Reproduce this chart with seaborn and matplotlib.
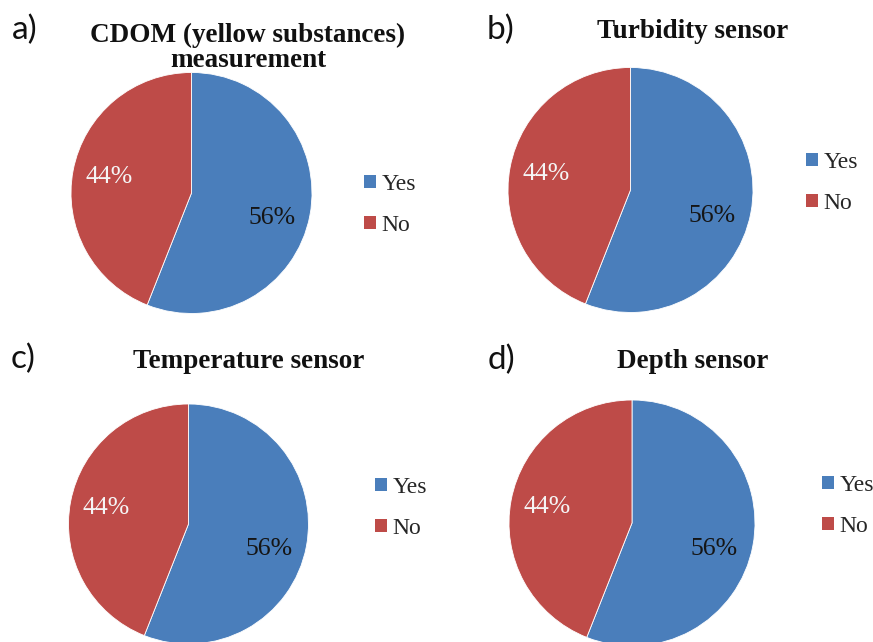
"""
Four pie charts: share of respondents whose instrument includes each sensor.
"""

import matplotlib
matplotlib.use('Agg')
import matplotlib.pyplot as plt
import seaborn as sns

# Data
panel_tags = ['a)', 'b)', 'c)', 'd)']
titles = ['CDOM (yellow substances)\nmeasurement', 'Turbidity sensor',
          'Temperature sensor', 'Depth sensor']
categories = ['Yes', 'No']
yes_share = [56, 56, 56, 56]
no_share = [44, 44, 44, 44]

# Styling
sns.set_theme(style='white')
plt.rcParams['font.family'] = ['Liberation Serif', 'DejaVu Serif']
palette = ['#4A7EBB', '#BE4B48']
pct_colors = ['#151515', '#F5F5F5']

W, H = 873, 642

# Layout in pixels (top-left origin): pie centre/radius, title baseline
# (last line), tag baseline, legend left/middle
layout = [
    dict(pie=(191.5, 193, 120.5), title=(248, 67), tag=(12, 39), legend=(364, 205)),
    dict(pie=(630.5, 190, 122.5), title=(693, 38), tag=(487, 39), legend=(806, 183)),
    dict(pie=(188.5, 524, 120), title=(249, 368), tag=(11, 368), legend=(375, 508)),
    dict(pie=(632, 523, 123), title=(693, 368), tag=(488, 369), legend=(822, 506)),
]


def fx(x):
    return x / W


def fy(y):
    return 1 - y / H


fig = plt.figure(figsize=(W / 100, H / 100), dpi=100)
fig.patch.set_facecolor('white')

for i, spec in enumerate(layout):
    cx, cy, r = spec['pie']
    ax = fig.add_axes([fx(cx - r), fy(cy + r), 2 * r / W, 2 * r / H])
    wedges, _, autotexts = ax.pie(
        [yes_share[i], no_share[i]],
        colors=palette,
        startangle=90,
        counterclock=False,
        autopct='%1.0f%%',
        pctdistance=0.7,
        wedgeprops=dict(edgecolor='white', linewidth=0.6),
        textprops=dict(fontsize=18.5),
    )
    for t, c in zip(autotexts, pct_colors):
        t.set_color(c)
    # Excel sets the "Yes" label a little lower than the slice middle
    px, py = autotexts[0].get_position()
    autotexts[0].set_position((px - 0.02, py - 0.08))
    for w in wedges:
        w.set_clip_on(False)
    ax.set_xlim(-1, 1)
    ax.set_ylim(-1, 1)
    ax.axis('off')

    leg = ax.legend(
        wedges, categories,
        loc='center left',
        bbox_to_anchor=(fx(spec['legend'][0]), fy(spec['legend'][1])),
        bbox_transform=fig.transFigure,
        frameon=False, fontsize=17,
        handlelength=0.5, handleheight=0.5,
        handletextpad=0.25, labelspacing=0.85,
        borderpad=0, borderaxespad=0,
    )
    for h in leg.legend_handles:
        h.set_edgecolor('none')

    tx, ty = spec['title']
    fig.text(fx(tx), fy(ty), titles[i], ha='center', va='baseline',
             fontsize=19.5, fontweight='bold', linespacing=1.0, color='#111111')

    gx, gy = spec['tag']
    fig.text(fx(gx), fy(gy), panel_tags[i], ha='left', va='baseline',
             fontsize=24, family=['Lato', 'DejaVu Sans'], color='#111111')

fig.savefig('out.png', dpi=100, facecolor='white')
